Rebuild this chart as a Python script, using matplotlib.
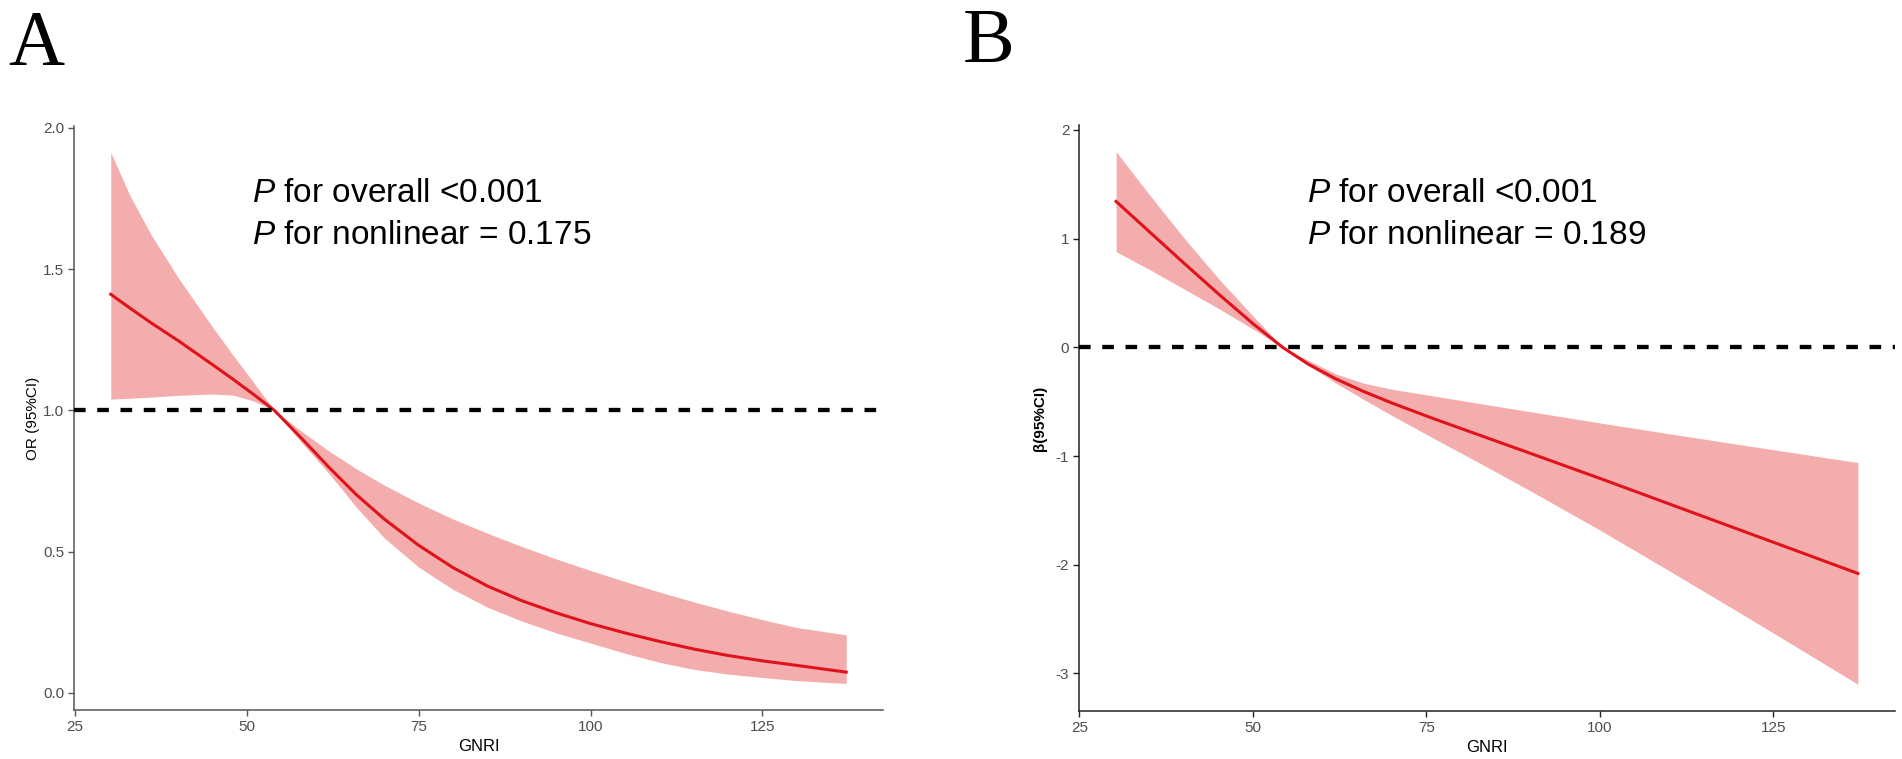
import numpy as np
import matplotlib
matplotlib.use("Agg")
import matplotlib.pyplot as plt

plt.rcParams['font.family'] = ['Liberation Sans', 'DejaVu Sans']
plt.rcParams['axes.unicode_minus'] = False
plt.rcParams['mathtext.fontset'] = 'custom'
plt.rcParams['mathtext.rm'] = 'Liberation Sans'
plt.rcParams['mathtext.it'] = 'Liberation Sans:italic'

# Panel A: OR curve with 95% CI
gnri_a = [30.2, 33, 36, 40, 45, 48, 51, 54, 58, 62, 66, 70, 75, 80, 85, 90, 95, 100, 105, 110, 115, 120, 125, 130, 137.2]
or_a = [1.411, 1.362, 1.311, 1.247, 1.162, 1.110, 1.056, 1.000, 0.900, 0.797, 0.700, 0.615, 0.522, 0.443, 0.378, 0.326, 0.283, 0.245, 0.212, 0.182, 0.155, 0.132, 0.113, 0.097, 0.073]
upper_a = [1.913, 1.760, 1.625, 1.470, 1.295, 1.195, 1.098, 1.000, 0.925, 0.855, 0.792, 0.735, 0.672, 0.615, 0.565, 0.518, 0.474, 0.433, 0.394, 0.357, 0.322, 0.289, 0.259, 0.231, 0.205]
lower_a = [1.040, 1.043, 1.047, 1.053, 1.058, 1.054, 1.033, 1.000, 0.885, 0.775, 0.655, 0.548, 0.445, 0.366, 0.303, 0.254, 0.212, 0.176, 0.140, 0.108, 0.083, 0.066, 0.054, 0.043, 0.033]

# Panel B: beta curve with 95% CI
gnri_b = [30.3, 35, 40, 45, 50, 54.3, 58, 62, 66, 70, 76, 83, 90, 100, 110, 120, 130, 137.2]
beta_b = [1.342, 1.069, 0.779, 0.494, 0.219, 0.0, -0.155, -0.291, -0.407, -0.511, -0.655, -0.815, -0.975, -1.205, -1.44, -1.675, -1.91, -2.08]
upper_b = [1.800, 1.412, 1.012, 0.637, 0.290, 0.0, -0.120, -0.245, -0.330, -0.385, -0.447, -0.520, -0.592, -0.695, -0.795, -0.893, -0.990, -1.060]
lower_b = [0.880, 0.720, 0.540, 0.360, 0.170, 0.0, -0.165, -0.330, -0.480, -0.625, -0.835, -1.075, -1.320, -1.680, -2.055, -2.435, -2.820, -3.100]

xticks = [25, 50, 75, 100, 125]
yticks_a = [0.0, 0.5, 1.0, 1.5, 2.0]
yticks_b = [-3, -2, -1, 0, 1, 2]

W, H = 1902, 759
fig = plt.figure(figsize=(W / 100, H / 100), dpi=100)


def box(l, r, t, b):
    return [l / W, 1 - b / H, (r - l) / W, (b - t) / H]


band_col = '#F4ADAD'
line_col = '#E0121C'

ax_a = fig.add_axes(box(74, 883, 126, 710))
ax_b = fig.add_axes(box(1079, 1895, 125, 711))

panels = [
    (ax_a, gnri_a, or_a, upper_a, lower_a, 1.0, yticks_a, '%.1f', '#555555',
     ['Liberation Sans', 'DejaVu Sans'], 'OR (95%CI)', 'normal', 2),
    (ax_b, gnri_b, beta_b, upper_b, lower_b, 0.0, yticks_b, '%d', '#222222',
     ['Liberation Sans Narrow', 'Liberation Sans', 'DejaVu Sans'], 'β(95%CI)', 'bold', 6),
]

for ax, x, y, up, lo, ref, yt, fmt, spc, tickfont, ylab, ylw, lpad in panels:
    ax.fill_between(x, lo, up, color=band_col, lw=0)
    ax.plot(x, y, color=line_col, lw=2.2, zorder=3)
    ax.axhline(ref, color='black', lw=3.1, dashes=(2.7, 2.7), zorder=4)
    span = max(up) - min(lo)
    ax.set_ylim(min(lo) - 0.05 * span, max(up) + 0.05 * span)
    xs = x[-1] - x[0]
    ax.set_xlim(x[0] - 0.05 * xs, x[-1] + 0.05 * xs)
    ax.set_xticks(xticks)
    ax.set_yticks(yt)
    ax.set_yticklabels([fmt % v for v in yt])
    for s in ['top', 'right']:
        ax.spines[s].set_visible(False)
    for s in ['left', 'bottom']:
        ax.spines[s].set_color(spc)
        ax.spines[s].set_linewidth(1.1)
    ax.tick_params(length=4, width=1.0, color=spc, labelcolor='#4D4D4D', labelsize=11, pad=3)
    for lab in ax.get_xticklabels() + ax.get_yticklabels():
        lab.set_family(tickfont)
    ax.set_xlabel('GNRI', fontsize=12, color='black', labelpad=4)
    ax.set_ylabel(ylab, fontsize=11, color='black', fontweight=ylw, labelpad=lpad)

# annotations
for px, v in [(252, '0.175'), (1307, '0.189')]:
    fig.text(px / W, 1 - 202 / H, r'$\it{P}$ for overall <0.001', fontsize=24, va='baseline', ha='left')
    fig.text(px / W, 1 - 244 / H, r'$\it{P}$ for nonlinear = ' + v, fontsize=24, va='baseline', ha='left')

fig.text(8 / W, 1 - 64 / H, 'A', fontsize=56, family=['Liberation Serif', 'DejaVu Serif'], va='baseline')
fig.text(963 / W, 1 - 62 / H, 'B', fontsize=56, family=['Liberation Serif', 'DejaVu Serif'], va='baseline')

fig.savefig('out.png', dpi=100)
